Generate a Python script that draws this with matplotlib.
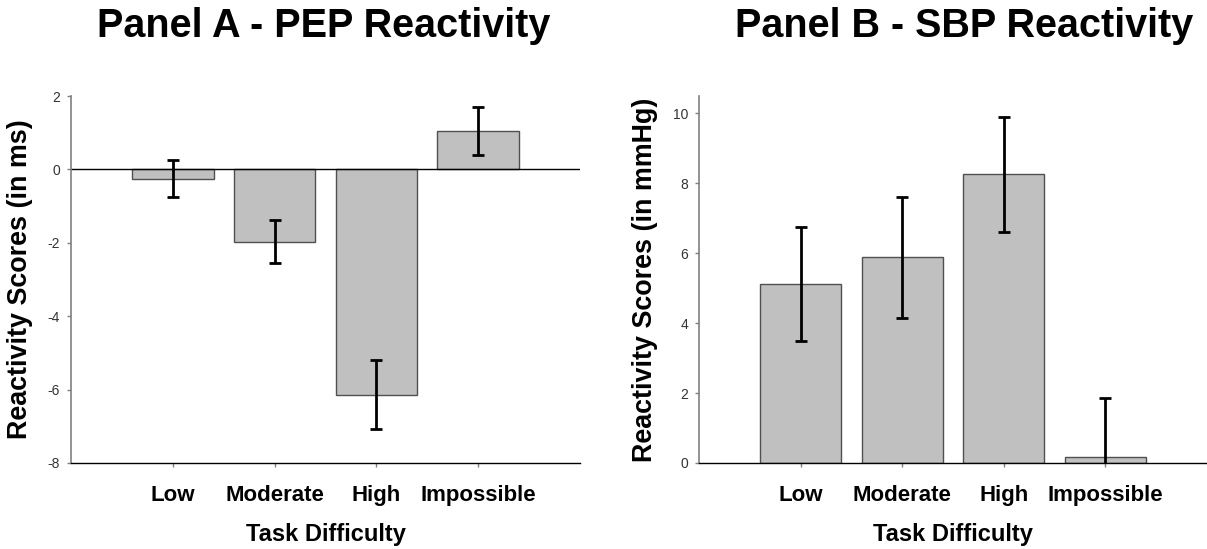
import matplotlib
matplotlib.use('Agg')
import matplotlib.pyplot as plt

categories = ['Low', 'Moderate', 'High', 'Impossible']

# Panel A - PEP reactivity (ms)
pep_means = [-0.25, -1.97, -6.14, 1.04]
pep_errors = [0.51, 0.59, 0.94, 0.65]

# Panel B - SBP reactivity (mmHg)
sbp_means = [5.12, 5.88, 8.26, 0.16]
sbp_errors = [1.63, 1.72, 1.65, 1.69]

plt.rcParams['font.family'] = ['Liberation Sans', 'DejaVu Sans']
plt.rcParams['axes.unicode_minus'] = False

W, H = 1207, 549
fig = plt.figure(figsize=(W / 100, H / 100), dpi=100)


def px_axes(left, right, top, bottom):
    return fig.add_axes([left / W, 1 - bottom / H, (right - left) / W, (bottom - top) / H])


def draw_panel(ax, means, errors, ylim, yticks, title, title_x, ylabel, ylabel_x):
    x = list(range(1, len(categories) + 1))
    ax.bar(x, means, width=0.8, color='#c0c0c0', edgecolor='#505050', linewidth=1, zorder=2)
    ax.errorbar(x, means, yerr=errors, fmt='none', ecolor='black', elinewidth=2,
                capsize=4.2, capthick=2, zorder=3)

    ax.set_xlim(0, 5)
    ax.set_ylim(*ylim)
    ax.set_yticks(yticks)
    ax.set_xticks(x)
    ax.set_xticklabels(categories, fontsize=16, fontweight='bold')

    for side in ['top', 'right']:
        ax.spines[side].set_visible(False)
    ax.spines['left'].set_color('#808080')
    ax.spines['left'].set_linewidth(1.2)
    ax.spines['bottom'].set_color('black')
    ax.spines['bottom'].set_linewidth(1)

    ax.tick_params(axis='y', direction='out', length=3, width=1, color='#808080',
                   labelsize=10, labelcolor='#333333', pad=5)
    ax.tick_params(axis='x', direction='out', length=3, width=1, color='#808080', pad=12.8)

    ax.set_title(title, x=title_x, y=1.1608, pad=0, fontsize=28.5, fontweight='bold')
    ax.set_ylabel(ylabel, fontsize=19.4, fontweight='bold', va='center')
    ax.yaxis.set_label_coords(ylabel_x, 0.5)
    ax.set_xlabel('Task Difficulty', fontsize=17, fontweight='bold', va='baseline')
    ax.xaxis.set_label_coords(0.5, -0.2125)


ax_a = px_axes(71, 580, 96, 463)
draw_panel(ax_a, pep_means, pep_errors, (-8, 2), [-8, -6, -4, -2, 0, 2],
           'Panel A - PEP Reactivity', 0.497, 'Reactivity Scores (in ms)', -0.1)
ax_a.axhline(0, color='black', linewidth=1, zorder=2.5)

ax_b = px_axes(699, 1207, 96, 463)
draw_panel(ax_b, sbp_means, sbp_errors, (0, 10.5), [0, 2, 4, 6, 8, 10],
           'Panel B - SBP Reactivity', 0.5217, 'Reactivity Scores (in mmHg)', -0.106)

fig.savefig('out.png', dpi=100)
